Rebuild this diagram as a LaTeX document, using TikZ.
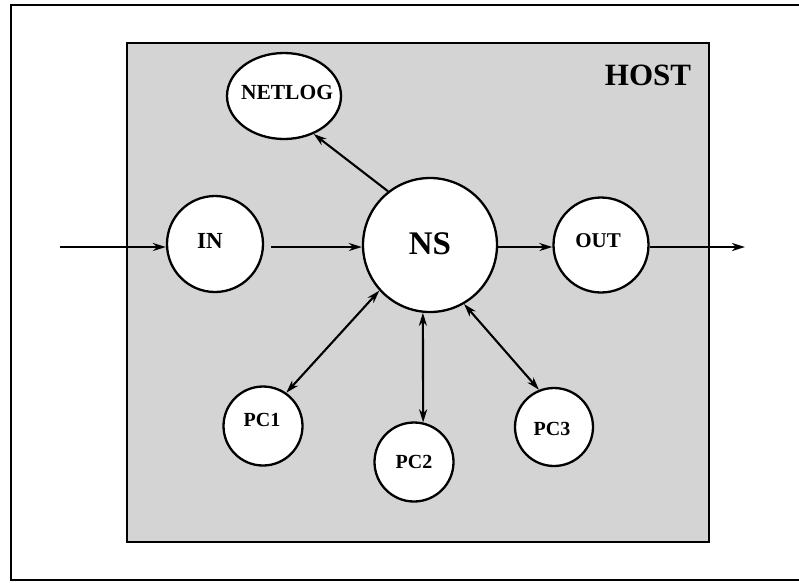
\documentclass[tikz,border=0pt]{standalone}
\usepackage{fontspec}
\setmainfont{Liberation Serif}
\usetikzlibrary{arrows.meta,shapes.geometric}
\begin{document}
\begin{tikzpicture}[x=1pt,y=-1pt,
  proc/.style={circle,draw=black,line width=2.3pt,fill=white,inner sep=0pt},
  tip/.tip={Stealth[length=13pt,width=8pt,inset=4pt]},
  conn/.style={line width=2.1pt,-tip},
  biconn/.style={line width=2.1pt,tip-tip},
  lbl/.style={font=\bfseries\fontsize{20}{20}\selectfont}]
\useasboundingbox (0,0) rectangle (799,582);
% outer frame (open at the right)
\draw[line width=2.2pt] (799,5) -- (11,5) -- (11,580) -- (799,580);
% host box
\node[draw=black,line width=2.4pt,fill=black!17,minimum width=582pt,minimum height=499pt,inner sep=0pt] (host) at (418,292.5) {};
\node[font=\bfseries\fontsize{31}{31}\selectfont] (hostlbl) at (648,75) {HOST};
% processes
\node[proc,ellipse,minimum width=114pt,minimum height=86pt] (netlog) at (284,96) {};
\node[font=\bfseries\fontsize{21.5}{21.5}\selectfont] (netlogt) at (287,92) {NETLOG};
\node[proc,minimum size=96pt] (in) at (215,244) {};
\node[font=\bfseries\fontsize{23}{23}\selectfont] (int) at (210,241) {IN};
\node[proc,minimum size=134pt] (ns) at (430,245) {};
\node[font=\bfseries\fontsize{33}{33}\selectfont] (nst) at (430,244) {NS};
\node[proc,minimum size=95pt] (out) at (601,245) {};
\node[lbl,font=\bfseries\fontsize{21}{21}\selectfont] (outt) at (598,241) {OUT};
\node[proc,minimum size=79pt] (pc1) at (263,426) {};
\node[lbl] (pc1t) at (262,420) {PC1};
\node[proc,minimum size=79pt] (pc2) at (414,462) {};
\node[lbl] (pc2t) at (414,462) {PC2};
\node[proc,minimum size=78pt] (pc3) at (554,427) {};
\node[lbl] (pc3t) at (552,429) {PC3};
% connectors
\coordinate (src) at (60,247);
\coordinate (sink) at (745,247);
\draw[conn] (src) -- (in.west |- src);
\draw[conn] ([xshift=7pt]in.east |- src) -- (ns.west |- src);
\draw[conn] (ns.east |- src) -- (out.west |- src);
\draw[conn] (out.east |- src) -- (sink);
\draw[conn] (ns.128) -- (netlog.-52);
\draw[biconn] (ns.222) -- (pc1.55);
\draw[biconn] (ns.264) -- (pc2.77);
\draw[biconn] (ns.300) -- (pc3.112);
\end{tikzpicture}
\end{document}
